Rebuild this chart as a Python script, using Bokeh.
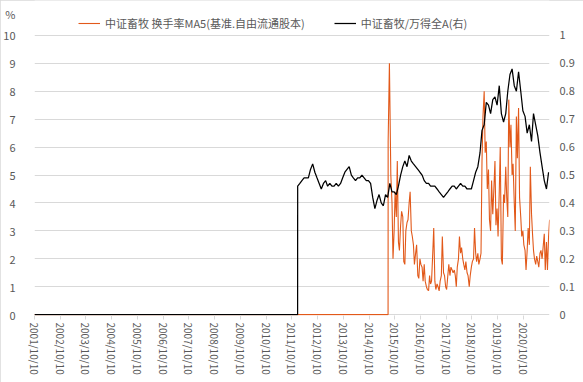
import pandas as pd
from bokeh.plotting import figure
from bokeh.models import (Range1d, LinearAxis, FixedTicker, DatetimeTickFormatter,
                          Legend, LegendItem)
from bokeh.embed import file_html
from bokeh.resources import INLINE

# ---------------- data ----------------
x_start = "2001-10-10"
x_end = "2021-10-14"
tick_dates = ["2001-10-10", "2002-10-10", "2003-10-10", "2004-10-10", "2005-10-10",
              "2006-10-10", "2007-10-10", "2008-10-10", "2009-10-10", "2010-10-10",
              "2011-10-10", "2012-10-10", "2013-10-10", "2014-10-10", "2015-10-10",
              "2016-10-10", "2017-10-10", "2018-10-10", "2019-10-10", "2020-10-10"]
left_ticks = [0, 1, 2, 3, 4, 5, 6, 7, 8, 9, 10]
right_ticks = [0, 0.1, 0.2, 0.3, 0.4, 0.5, 0.6, 0.7, 0.8, 0.9, 1]
left_unit = "%"
left_unit_pos = 10.75

series1_name = "中证畜牧 换手率MA5(基准.自由流通股本)"
series2_name = "中证畜牧/万得全A(右)"

# turnover MA5 (%), left axis
turnover_early_dates = ["2001-10-10", "2015-07-07", "2015-07-08", "2015-07-26"]
turnover_early_values = [0, 0, 6.2, 9.0]
turnover_start = "2015-08-15"   # semi-monthly from here
turnover_values = [
    5.0, 4.0, 2.0, 3.0, 4.4, 3.5, 5.5, 2.6, 2.3, 3.2,
    3.7, 3.5, 1.9, 1.8, 3.0, 3.3, 3.4, 4.0, 4.4, 3.0,
    2.8, 2.5, 1.8, 2.2, 2.5, 1.4, 1.3, 2.0, 1.8, 1.7,
    1.2, 1.8, 1.2, 1.0, 0.9, 0.86, 1.4, 1.1, 1.2, 2.2,
    3.1, 1.2, 0.9, 1.1, 1.0, 0.85, 1.2, 1.4, 2.8, 1.5,
    1.4, 1.0, 0.9, 1.4, 1.8, 1.4, 1.7, 1.6, 1.5, 1.6,
    1.4, 1.0, 1.7, 2.0, 2.8, 2.2, 2.4, 2.0, 1.8, 1.6,
    1.9, 1.5, 1.4, 1.0, 1.4, 1.7, 1.9, 2.0, 3.1, 2.2,
    1.9, 2.2, 1.8, 2.0, 2.2, 5.5, 7.1, 8.0, 5.8, 6.2,
    4.5, 5.2, 3.4, 3.0, 4.8, 3.6, 4.4, 5.5, 3.2, 3.8,
    2.8, 4.4, 6.0, 2.0, 1.8, 4.3, 4.0, 5.3, 4.2, 3.5,
    7.7, 6.0, 6.8, 5.0, 5.4, 4.0, 3.0, 7.1, 5.6, 7.4,
    4.2, 3.5, 2.8, 3.0, 2.5, 2.3, 1.6, 2.3, 3.1, 2.5,
    5.3, 3.6, 2.9, 2.3, 2.0, 1.8, 2.1, 1.9, 1.7, 2.2,
    2.3, 2.0, 2.4, 2.9, 1.6, 2.6, 1.6, 2.8, 3.4,
]

# relative strength ratio, right axis
ratio_early_dates = ["2001-10-10", "2011-12-31"]
ratio_early_values = [0, 0]
ratio_start = "2012-01-01"   # monthly from here
ratio_values = [
    0.46, 0.47, 0.48, 0.49, 0.49, 0.49, 0.52, 0.54, 0.51, 0.49, 0.47, 0.45,
    0.47, 0.48, 0.46, 0.47, 0.46, 0.46, 0.47, 0.46, 0.47, 0.49, 0.51, 0.52,
    0.53, 0.50, 0.49, 0.48, 0.49, 0.49, 0.50, 0.49, 0.48, 0.48, 0.47, 0.42,
    0.38, 0.41, 0.43, 0.40, 0.39, 0.43, 0.42, 0.47, 0.44, 0.44, 0.43, 0.46,
    0.50, 0.53, 0.55, 0.53, 0.57, 0.55, 0.54, 0.53, 0.52, 0.51, 0.50, 0.48,
    0.47, 0.47, 0.46, 0.46, 0.46, 0.45, 0.44, 0.43, 0.42, 0.43, 0.44, 0.45,
    0.46, 0.46, 0.45, 0.46, 0.47, 0.46, 0.46, 0.45, 0.45, 0.45, 0.48, 0.51,
    0.53, 0.58, 0.66, 0.68, 0.76, 0.75, 0.72, 0.77, 0.78, 0.75, 0.82, 0.72,
    0.69, 0.72, 0.80, 0.86, 0.88, 0.82, 0.80, 0.87, 0.80, 0.73, 0.71, 0.65,
    0.68, 0.62, 0.72, 0.68, 0.64, 0.58, 0.53, 0.48, 0.45, 0.51,
]

# ---------------- build x values ----------------
t_dates = list(pd.to_datetime(turnover_early_dates)) + list(
    pd.date_range(turnover_start, periods=len(turnover_values), freq="SMS"))
t_vals = turnover_early_values + turnover_values
r_dates = list(pd.to_datetime(ratio_early_dates)) + list(
    pd.date_range(ratio_start, periods=len(ratio_values), freq="MS"))
r_vals = ratio_early_values + ratio_values

FONT = "Noto Sans CJK SC"
TXT = "#595959"
GRID = "#D9D9D9"
ORANGE = "#E2591A"

Y_BOTTOM = -0.03   # keeps the zero-level lines visible above the frame edge
Y_TOP = 11.25      # head room above the 10 line for the legend

p = figure(width=583, height=382, x_axis_type="datetime",
           x_range=Range1d(pd.Timestamp(x_start), pd.Timestamp(x_end)),
           y_range=Range1d(Y_BOTTOM, Y_TOP),
           output_backend="svg", toolbar_location=None,
           min_border_left=28, min_border_right=34, min_border_top=0, min_border_bottom=67)
p.outline_line_color = None
p.extra_y_ranges = {"right": Range1d(Y_BOTTOM / 10, Y_TOP / 10)}

l1 = p.line(t_dates, t_vals, line_color=ORANGE, line_width=1.1)
l2 = p.line(r_dates, r_vals, line_color="black", line_width=1.25, y_range_name="right")

# x axis
xa = p.xaxis[0]
xa.ticker = FixedTicker(ticks=[pd.Timestamp(d).value // 10**6 for d in tick_dates])
fmt = "%Y/%m/%d"
xa.formatter = DatetimeTickFormatter(microseconds=fmt, milliseconds=fmt, seconds=fmt,
                                     minsec=fmt, minutes=fmt, hourmin=fmt, hours=fmt,
                                     days=fmt, months=fmt, years=fmt)
xa.major_label_orientation = "vertical"
xa.axis_line_color = None
xa.major_tick_line_color = GRID
xa.major_tick_out = 4
xa.major_tick_in = 0
xa.minor_tick_line_color = None
xa.major_label_standoff = 3
xa.major_label_text_font = FONT
xa.major_label_text_font_size = "10px"
xa.major_label_text_color = TXT

# left axis (the unit "%" sits as an extra label above 10)
ya = p.yaxis[0]
ya.ticker = FixedTicker(ticks=left_ticks + [left_unit_pos])
ya.major_label_overrides = {left_unit_pos: left_unit}
ya.axis_line_color = None
ya.major_tick_line_color = None
ya.minor_tick_line_color = None
ya.major_label_standoff = 13
ya.major_label_text_font = FONT
ya.major_label_text_font_size = "11px"
ya.major_label_text_color = TXT

# right axis
ra = LinearAxis(y_range_name="right", ticker=FixedTicker(ticks=right_ticks))
ra.axis_line_color = None
ra.major_tick_line_color = None
ra.minor_tick_line_color = None
ra.major_label_standoff = 4
ra.major_label_text_font = FONT
ra.major_label_text_font_size = "11px"
ra.major_label_text_color = TXT
p.add_layout(ra, "right")

p.xgrid.visible = False
p.ygrid.ticker = FixedTicker(ticks=left_ticks)
p.ygrid.grid_line_color = GRID

legend = Legend(items=[LegendItem(label=series1_name, renderers=[l1]),
                       LegendItem(label=series2_name, renderers=[l2])],
                orientation="horizontal", location=(44, 282),
                border_line_color=None, background_fill_alpha=0,
                label_text_font=FONT, label_text_font_size="11px", label_text_color=TXT,
                glyph_width=22, glyph_height=20, label_height=20, label_standoff=5,
                spacing=29, padding=3, margin=0)
p.add_layout(legend, "center")

# thin light-grey chart border that does not change the layout size
p.styles = {"outline": "1px solid #D9D9D9", "outline-offset": "-1px"}

open("out.html", "w").write(file_html(p, INLINE))
